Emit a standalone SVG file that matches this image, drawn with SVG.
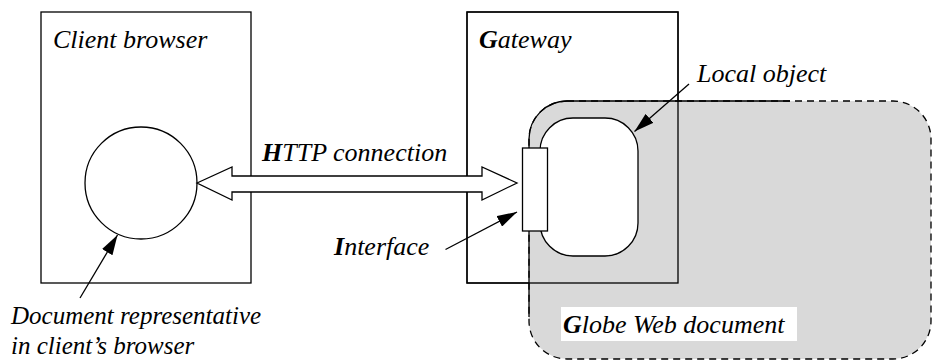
<svg xmlns="http://www.w3.org/2000/svg" width="932" height="360" viewBox="0 0 932 360">
  <style>
    .box { fill: #ffffff; stroke: #000000; stroke-width: 1.3; }
    .frame { fill: none; stroke: #000000; stroke-width: 1.3; }
    .globe { fill: #d9d9d9; stroke: #000000; stroke-width: 1.3; stroke-dasharray: 7 5; }
    .solid { fill: none; stroke: #000000; stroke-width: 1.3; }
    .conn { fill: none; stroke: #000000; stroke-width: 1.3; marker-end: url(#head); }
    .block { fill: #ffffff; stroke: #000000; stroke-width: 1.3; stroke-linejoin: miter; }
    text { font-family: "Liberation Serif", "Times New Roman", serif; font-style: italic; font-size: 26px; fill: #000000; }
    .b { font-weight: bold; }
    .doc { font-size: 25px; }
  </style>
  <defs>
    <marker id="head" viewBox="0 0 20 12" refX="20" refY="6" markerWidth="20" markerHeight="12" markerUnits="userSpaceOnUse" orient="auto">
      <path d="M0,0 L20,6 L0,12 z" fill="#000000"/>
    </marker>
  </defs>

  <g id="client-browser">
    <rect class="box" x="41" y="12" width="210" height="271"/>
    <text x="53" y="48">Client browser</text>
  </g>

  <g id="gateway">
    <rect class="box" x="467" y="12" width="211" height="271"/>
    <text x="479" y="48"><tspan class="b">G</tspan>ateway</text>
  </g>

  <g id="globe-web-document">
    <rect class="globe" x="529" y="101" width="402" height="258" rx="38" ry="38"/>
    <path class="solid" d="M529,317 L529,139 A38,38 0 0 1 567,101 L790,101"/>
    <rect x="561" y="307" width="236" height="34" fill="#ffffff"/>
    <text x="563" y="333"><tspan class="b">G</tspan>lobe Web document</text>
  </g>

  <g id="gateway-frame">
    <rect class="frame" x="467" y="12" width="211" height="271"/>
  </g>

  <g id="local-object">
    <rect class="box" x="540" y="118" width="98" height="138" rx="33" ry="33"/>
    <text x="697" y="82">Local object</text>
  </g>

  <g id="interface">
    <rect class="box" x="522.5" y="148" width="25" height="83"/>
    <text x="334" y="255"><tspan class="b">I</tspan>nterface</text>
  </g>

  <g id="document-representative">
    <circle class="box" cx="141" cy="183" r="56"/>
    <text class="doc" x="11" y="324">Document representative</text>
    <text class="doc" x="11" y="354">in client’s browser</text>
  </g>

  <g id="connectors">
    <polygon class="block" points="197,183 232,167 232,176 482,176 482,167 517,183 482,200 482,192 232,192 232,200"/>
    <text x="262" y="161"><tspan class="b">H</tspan>TTP connection</text>
    <line class="conn" x1="80" y1="298" x2="117.5" y2="235"/>
    <line class="conn" x1="445.5" y1="249.5" x2="517" y2="212"/>
    <line class="conn" x1="689" y1="84" x2="634.5" y2="131.5"/>
  </g>
</svg>
